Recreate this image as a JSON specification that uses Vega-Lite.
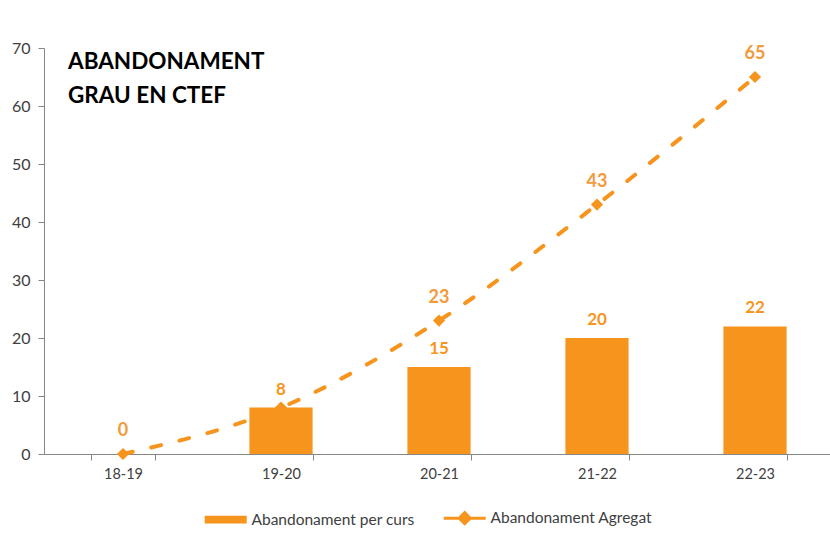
{
  "$schema": "https://vega.github.io/schema/vega-lite/v6.json",
  "width": 790,
  "height": 406,
  "autosize": {"type": "none"},
  "padding": {"left": 44, "top": 48, "right": 0, "bottom": 84},
  "background": "white",
  "config": {"view": {"stroke": null}, "font": "Lato"},
  "title": {
    "text": ["ABANDONAMENT", "GRAU EN CTEF"],
    "anchor": "start",
    "frame": "group",
    "dx": 24,
    "offset": -67,
    "baseline": "top",
    "fontSize": 22.5,
    "fontWeight": "bold",
    "color": "black",
    "lineHeight": 34
  },
  "data": {
    "values": [
      {"curs": "18-19", "per_curs": null, "agregat": 0},
      {"curs": "19-20", "per_curs": 8, "agregat": 8},
      {"curs": "20-21", "per_curs": 15, "agregat": 23},
      {"curs": "21-22", "per_curs": 20, "agregat": 43},
      {"curs": "22-23", "per_curs": 22, "agregat": 65}
    ]
  },
  "encoding": {
    "x": {
      "field": "curs",
      "type": "nominal",
      "sort": null,
      "scale": {"domain": ["18-19", "19-20", "20-21", "21-22", "22-23"], "paddingInner": 0.6, "paddingOuter": 0.3},
      "axis": {
        "title": null,
        "labelAngle": 0,
        "tickBand": "extent",
        "tickSize": 6,
        "domainColor": "#868686",
        "tickColor": "#868686",
        "labelFontSize": 14.5,
        "labelColor": "#404040",
        "labelPadding": 7
      }
    }
  },
  "layer": [
    {
      "mark": {"type": "bar"},
      "encoding": {
        "y": {
          "field": "per_curs",
          "type": "quantitative",
          "scale": {"domain": [0, 70]},
          "axis": {
            "title": null,
            "values": [0, 10, 20, 30, 40, 50, 60, 70],
            "grid": false,
            "domainColor": "#868686",
            "tickColor": "#868686",
            "tickSize": 6,
            "labelFontSize": 16,
            "labelColor": "#404040",
            "labelPadding": 8
          }
        },
        "color": {
          "datum": "Abandonament per curs",
          "scale": {
            "domain": ["Abandonament per curs", "Abandonament Agregat"],
            "range": ["#F7941D", "#F7941D"]
          },
          "legend": {
            "orient": "none",
            "legendX": 158,
            "legendY": 462,
            "direction": "horizontal",
            "title": null,
            "symbolStrokeWidth": 0,
            "labelFontSize": 15.5,
            "labelLimit": 400,
            "labelColor": "#404040",
            "labelOffset": 34,
            "columnPadding": 22,
            "padding": 0,
            "encode": {
              "symbols": {
                "update": {
                  "size": {"value": 1764},
                  "shape": {"signal": "datum.value === 'Abandonament per curs' ? 'M-0.24,-0.19H1.76V0.19H-0.24Z' : 'M-0.24,0H0.46M1.06,0H1.76M0.76,-0.26L1.02,0L0.76,0.26L0.5,0Z'"},
                  "strokeWidth": {"signal": "datum.value === 'Abandonament per curs' ? 0 : 3"},
                  "fill": {"value": "#F7941D"},
                  "stroke": {"value": "#F7941D"},
                  "opacity": {"value": 1},
                  "fillOpacity": {"value": 1}
                }
              }
            }
          }
        }
      }
    },
    {
      "mark": {"type": "text", "dy": -18, "fontSize": 17, "fontWeight": "bold", "color": "#F7941D"},
      "encoding": {
        "y": {"field": "per_curs", "type": "quantitative"},
        "text": {"field": "per_curs", "type": "quantitative"}
      }
    },
    {
      "mark": {"type": "line", "strokeDash": [10, 19], "strokeWidth": 4, "strokeCap": "round", "interpolate": "monotone"},
      "encoding": {
        "y": {"field": "agregat", "type": "quantitative"},
        "color": {"datum": "Abandonament Agregat"}
      }
    },
    {
      "mark": {"type": "point", "shape": "diamond", "filled": true, "size": 150, "color": "#F7941D", "opacity": 1},
      "encoding": {
        "y": {"field": "agregat", "type": "quantitative"}
      }
    },
    {
      "transform": [{"filter": "datum.curs !== '19-20'"}],
      "mark": {"type": "text", "dy": -23, "fontSize": 18, "fontWeight": "bold", "color": "#F39A3A"},
      "encoding": {
        "y": {"field": "agregat", "type": "quantitative"},
        "text": {"field": "agregat", "type": "quantitative"}
      }
    }
  ]
}
